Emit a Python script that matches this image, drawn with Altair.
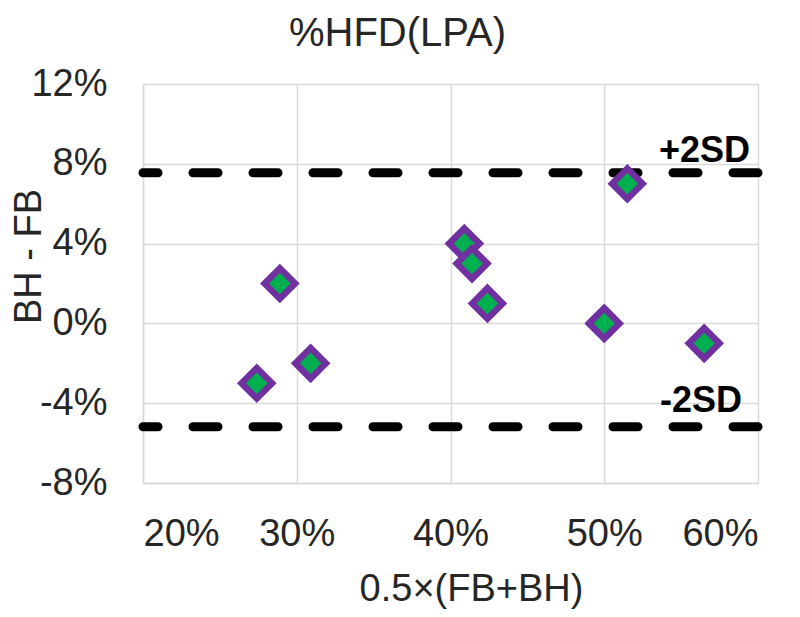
import altair as alt
import pandas as pd

# Data
mean_x = [0.289, 0.274, 0.309, 0.409, 0.414, 0.424, 0.515, 0.500, 0.565]
diff_y = [0.02, -0.03, -0.02, 0.04, 0.03, 0.01, 0.07, 0.00, -0.01]
sd_values = [0.0755, -0.0518]
sd_labels = ["+2SD", "-2SD"]
x_ticks = [0.2, 0.3, 0.4, 0.5, 0.6]
y_ticks = [0.12, 0.08, 0.04, 0.0, -0.04, -0.08]

pts = pd.DataFrame({"x": mean_x, "y": diff_y})
sd = pd.DataFrame({"y": sd_values, "label": sd_labels, "x": [0.6, 0.6]})

FONT = "Liberation Sans"
TXT = "#262626"
GRID = "#d9d9d9"

xscale = alt.Scale(domain=[0.2, 0.6], nice=False, zero=False)
yscale = alt.Scale(domain=[-0.08, 0.12], nice=False, zero=False)

xaxis = alt.Axis(
    values=x_ticks, format=".0%", title="0.5×(FB+BH)",
    labelFontSize=38, titleFontSize=38, labelFont=FONT, titleFont=FONT,
    labelColor=TXT, titleColor=TXT, titleFontWeight="normal",
    tickSize=0, labelPadding=32, domainColor=GRID, domainWidth=1.5,
    gridColor=GRID, gridWidth=1.5,
    titleX=328, titleY=117, titleBaseline="alphabetic", titleAlign="center",
)
yaxis = alt.Axis(
    values=y_ticks, format=".0%", title="BH - FB",
    labelExpr="replace(datum.label, '\u2212', '-')",
    labelFontSize=38, titleFontSize=38, labelFont=FONT, titleFont=FONT,
    labelColor=TXT, titleColor=TXT, titleFontWeight="normal",
    tickSize=0, labelPadding=36, domainColor=GRID, domainWidth=1.5,
    gridColor=GRID, gridWidth=1.5,
    titleX=-103, titleY=172, titleBaseline="alphabetic", titleAlign="center",
    titleAngle=270,
)

base = alt.Chart(pts)

points = base.mark_point(
    shape="diamond", filled=True, fill="#00B050", stroke="#7030A0",
    strokeWidth=6.5, size=930, opacity=1,
).encode(
    x=alt.X("x:Q", scale=xscale, axis=xaxis),
    y=alt.Y("y:Q", scale=yscale, axis=yaxis),
)

rules = alt.Chart(sd).mark_rule(
    color="black", strokeWidth=9, strokeDash=[25, 35], strokeCap="round"
).encode(y=alt.Y("y:Q", scale=yscale))

lab_plus = alt.Chart(sd[sd.label == "+2SD"]).mark_text(
    font=FONT, fontSize=36, fontWeight="bold", color="black",
    align="right", baseline="alphabetic", dx=-8, dy=-11,
).encode(x=alt.X("x:Q", scale=xscale), y=alt.Y("y:Q", scale=yscale), text="label:N")

lab_minus = alt.Chart(sd[sd.label == "-2SD"]).mark_text(
    font=FONT, fontSize=36, fontWeight="bold", color="black",
    align="right", baseline="alphabetic", dx=-16, dy=-15,
).encode(x=alt.X("x:Q", scale=xscale), y=alt.Y("y:Q", scale=yscale), text="label:N")

chart = alt.layer(rules, points, lab_plus, lab_minus).properties(
    width=615, height=399,
    title=alt.TitleParams(
        "%HFD(LPA)", font=FONT, fontSize=40, fontWeight="normal", color=TXT,
        anchor="middle", dx=-53, offset=11,
    ),
    autosize=alt.AutoSizeParams(type="none"),
    padding={"left": 135, "top": 76, "right": 34, "bottom": 126},
).configure_view(stroke=None).configure(background="white")

chart.save("out.html", embed_options={"renderer": "svg", "actions": False})
